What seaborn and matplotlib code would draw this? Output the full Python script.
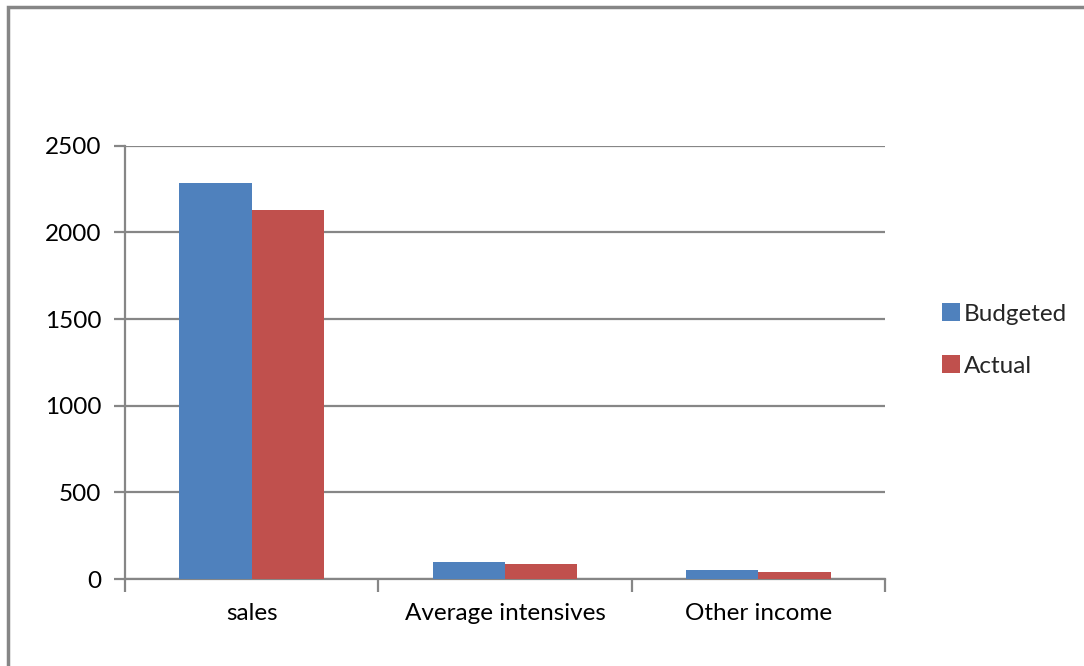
import matplotlib
matplotlib.use("Agg")
import matplotlib.pyplot as plt
import seaborn as sns
import pandas as pd
from matplotlib.patches import Rectangle

categories = ["sales", "Average intensives", "Other income"]
budgeted = [2285, 97, 51]
actual = [2127, 84, 39]
series_names = ["Budgeted", "Actual"]
yticks = [0, 500, 1000, 1500, 2000, 2500]

df = pd.DataFrame({
    "category": categories * 2,
    "value": budgeted + actual,
    "series": [series_names[0]] * 3 + [series_names[1]] * 3,
})

sns.set_theme(style="white")
plt.rcParams["font.family"] = ["Lato", "DejaVu Sans"]

grey = "#868686"
fs = 17.5
fig = plt.figure(figsize=(10.84, 6.66), dpi=100)
ax = fig.add_axes([125/1084, 1 - 579/666, (885-125)/1084, (579-145.7)/666])

sns.barplot(data=df, x="category", y="value", hue="series", order=categories,
            hue_order=series_names, palette=["#4F81BD", "#C0504D"],
            width=0.57, saturation=1, ax=ax, edgecolor="none", linewidth=0, zorder=3)

ax.set_ylim(0, 2500)
ax.set_xlim(-0.5, 2.5)
ax.set_yticks(yticks)
ax.set_yticklabels([str(t) for t in yticks])
ax.set_xlabel("")
ax.set_ylabel("")
ax.yaxis.grid(True, color=grey, linewidth=1.6, zorder=0)
ax.set_axisbelow(True)
for s in ["top", "right"]:
    ax.spines[s].set_visible(False)
for s in ["left", "bottom"]:
    ax.spines[s].set_color(grey)
    ax.spines[s].set_linewidth(1.6)

ax.tick_params(axis="y", which="major", length=8, width=1.6, color=grey, pad=9,
               labelsize=fs, labelcolor="black", left=True)
ax.tick_params(axis="x", which="major", length=0, pad=17, labelsize=fs, labelcolor="black")
ax.set_xticks([-0.5, 0.5, 1.5, 2.5], minor=True)
ax.tick_params(axis="x", which="minor", length=9, width=1.6, color=grey, bottom=True)

handles, labels = ax.get_legend_handles_labels()
ax.get_legend().remove()
fig.legend(handles, labels, loc="center left", bbox_to_anchor=(942/1084, 1 - 340/666),
           frameon=False, fontsize=fs, handlelength=0.75, handleheight=0.75,
           handletextpad=0.15, labelspacing=1.25, borderpad=0, borderaxespad=0)

fig.patches.append(Rectangle((7.5/1084, -0.2), 1.1, 1.2 - 7/666, transform=fig.transFigure,
                             fill=False, edgecolor=grey, linewidth=2.5, zorder=0))

fig.savefig("out.png", dpi=100)
